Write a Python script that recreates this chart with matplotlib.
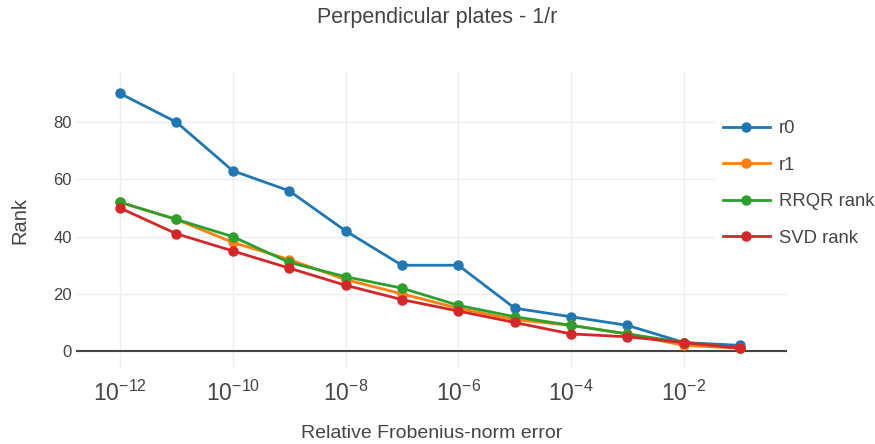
import numpy as np
import matplotlib
matplotlib.use('Agg')
import matplotlib.pyplot as plt

plt.rcParams['font.family'] = ['Liberation Sans', 'DejaVu Sans']
plt.rcParams['mathtext.default'] = 'regular'

# relative error tolerances and the ranks obtained at each
tol = [1e-12, 1e-11, 1e-10, 1e-9, 1e-8, 1e-7, 1e-6, 1e-5, 1e-4, 1e-3, 1e-2, 1e-1]
r0 = [90, 80, 63, 56, 42, 30, 30, 15, 12, 9, 3, 2]
r1 = [52, 46, 38, 32, 25, 20, 15, 11, 9, 6, 2, 1]
rrqr = [52, 46, 40, 31, 26, 22, 16, 12, 9, 6, 3, 1]
svd = [50, 41, 35, 29, 23, 18, 14, 10, 6, 5, 3, 1]

series = [('r0', r0, '#1f77b4'), ('r1', r1, '#ff7f0e'),
          ('RRQR rank', rrqr, '#2ca02c'), ('SVD rank', svd, '#d62728')]

txt = '#444444'
fig = plt.figure(figsize=(8.75, 4.44), dpi=100)
ax = fig.add_axes([76/875, 1-368/444, (787-76)/875, (368-72)/444])

for name, vals, col in series:
    ax.plot(tol, vals, color=col, lw=2.0, marker='o', ms=6.5, label=name, zorder=3)

ax.set_xscale('log')
ax.set_xlim(10**-12.78, 10**-0.17)
ax.set_ylim(-5.9, 97.5)

xt = [1e-12, 1e-10, 1e-8, 1e-6, 1e-4, 1e-2]
ax.set_xticks(xt)
ax.set_xticklabels([r'$10^{-%d}$' % -int(round(np.log10(v))) for v in xt], fontsize=16.5, color=txt)
ax.xaxis.set_minor_locator(matplotlib.ticker.NullLocator())
ax.set_yticks([0, 20, 40, 60, 80])
ax.set_yticklabels(['0', '20', '40', '60', '80'], fontsize=12, color=txt)
ax.tick_params(axis='y', length=0, pad=3)
ax.tick_params(axis='x', length=0, pad=9)

ax.grid(True, color='#eeeeee', lw=1, zorder=0)
ax.axhline(0, color='#444444', lw=1.5, zorder=2)
for s in ax.spines.values():
    s.set_visible(False)

ax.set_ylabel('Rank', fontsize=14.5, color=txt, labelpad=17)
ax.set_xlabel('Relative Frobenius-norm error', fontsize=14, color=txt, labelpad=14)
fig.text(0.5, 1-17/444, 'Perpendicular plates - 1/r', ha='center', va='center', fontsize=15.5, color=txt)

leg = ax.legend(loc='upper left', bbox_to_anchor=(716/875, 1-113/444), bbox_transform=fig.transFigure,
                frameon=True, fontsize=13.3, handlelength=2.5, handletextpad=0.5,
                labelspacing=1.05, borderaxespad=0)
leg.get_frame().set_facecolor('white')
leg.get_frame().set_edgecolor('white')
leg.get_frame().set_alpha(1)
for t in leg.get_texts():
    t.set_color(txt)

fig.savefig('out.png', dpi=100)
